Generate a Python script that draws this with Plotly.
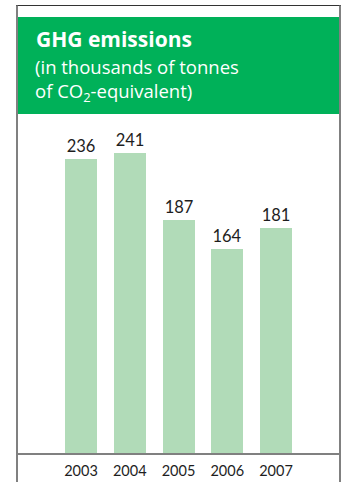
import plotly.graph_objects as go

# GHG emissions, thousands of tonnes CO2-equivalent
years = ["2003", "2004", "2005", "2006", "2007"]
emissions = [236, 241, 187, 164, 181]

W, H = 342, 482

HEADER_GREEN = "#00b159"
BAR_GREEN = "#b1dbb8"
BORDER_GRAY = "#808080"
TEXT_DARK = "#1e1e1e"
NUM_FONT = dict(family="Lato", weight=400, color=TEXT_DARK)


def px_x(p):
    return p / W


def px_y(p):
    return 1 - p / H


# pixel frame of the panel
left, right, top = 17, 340, 5.5
base_y = 453
header_top, header_bottom = 17, 114
px_per_unit = 1.245
bar_pitch = 48.75
first_center = 81

x_range = [(left - first_center) / bar_pitch, (right - first_center) / bar_pitch]
y_range = [0, (base_y - header_bottom) / px_per_unit]

fig = go.Figure()
fig.add_trace(go.Bar(
    x=years,
    y=emissions,
    width=32 / bar_pitch,
    marker=dict(color=BAR_GREEN, line=dict(width=0)),
    text=[str(v) for v in emissions],
    textposition="outside",
    constraintext="none",
    cliponaxis=False,
    textfont=dict(NUM_FONT, size=16.5),
    hoverinfo="skip",
))

title_font = "Open Sans"
annotations = [
    dict(x=px_x(34), y=px_y(39), xref="paper", yref="paper",
         xanchor="left", yanchor="middle", showarrow=False,
         text="<b>GHG emissions</b>",
         font=dict(family=title_font, size=21, color="white")),
    dict(x=px_x(33), y=px_y(80.5), xref="paper", yref="paper",
         xanchor="left", yanchor="middle", align="left", showarrow=False,
         text="(in thousands of tonnes<br>of CO<sub>2</sub>-equivalent)",
         font=dict(family=title_font, size=18.5, color="white")),
]

shapes = [
    # green header band
    dict(type="rect", xref="paper", yref="paper",
         x0=px_x(left), x1=px_x(right), y0=px_y(header_bottom), y1=px_y(header_top),
         fillcolor=HEADER_GREEN, line=dict(width=0), layer="below"),
    # top rule
    dict(type="line", xref="paper", yref="paper",
         x0=px_x(left - 1), x1=px_x(right + 1), y0=px_y(top), y1=px_y(top),
         line=dict(color="#333333", width=1)),
    # side borders
    dict(type="line", xref="paper", yref="paper",
         x0=px_x(left), x1=px_x(left), y0=px_y(top), y1=0,
         line=dict(color=BORDER_GRAY, width=2)),
    dict(type="line", xref="paper", yref="paper",
         x0=px_x(right), x1=px_x(right), y0=px_y(top), y1=0,
         line=dict(color=BORDER_GRAY, width=2)),
]

fig.update_layout(
    width=W, height=H,
    margin=dict(l=0, r=0, t=0, b=0),
    paper_bgcolor="white",
    plot_bgcolor="white",
    showlegend=False,
    bargap=0,
    xaxis=dict(
        domain=[px_x(left), px_x(right)],
        range=x_range,
        type="category",
        showgrid=False, zeroline=False,
        showline=True, linecolor=BORDER_GRAY, linewidth=2,
        ticks="", ticklabelstandoff=4,
        tickfont=dict(NUM_FONT, size=14.5),
        fixedrange=True,
    ),
    yaxis=dict(
        domain=[1 - base_y / H, 1 - header_bottom / H],
        range=y_range,
        visible=False,
        fixedrange=True,
    ),
    shapes=shapes,
    annotations=annotations,
)

fig.write_html("out.html")
